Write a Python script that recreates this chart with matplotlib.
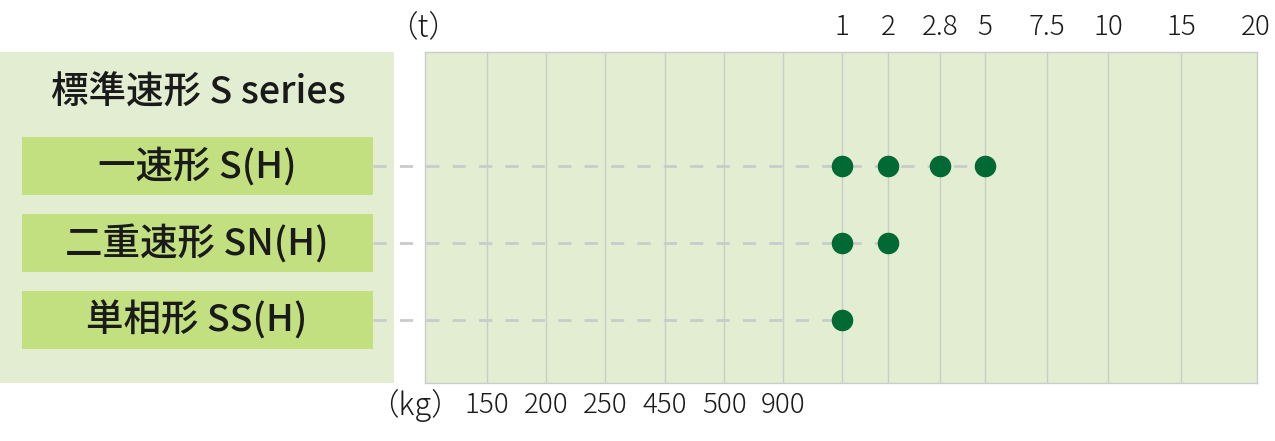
import matplotlib
matplotlib.use("Agg")
import matplotlib.pyplot as plt
from matplotlib.patches import Rectangle

plt.rcParams['font.family'] = ['Noto Sans CJK JP', 'DejaVu Sans']
plt.rcParams['lines.scale_dashes'] = False

# data
series_title = "標準速形 S series"
series_names = ["一速形 S(H)", "二重速形 SN(H)", "単相形 SS(H)"]
kg_labels = ["150", "200", "250", "450", "500", "900"]
t_labels = ["1", "2", "2.8", "5", "7.5", "10", "15", "20"]
# capacities available per series
series_caps = [["1", "2", "2.8", "5"], ["1", "2"], ["1"]]

# layout (slot positions along the axis, left edge = 0)
kg_x = [62, 121, 180, 240, 299, 358]
t_x = [417, 463, 515, 560, 622, 683, 756, 831]

BG = "#e2edd1"
BOX = "#c3e081"
DOT = "#006934"
GRID = "#c9cccb"
TXT = "#1a1a1a"

W, H = 1275, 441
fig = plt.figure(figsize=(W / 100, H / 100), dpi=100)

# main plot area
ax = fig.add_axes([425 / W, (H - 383) / H, 832 / W, 331 / H])
ax.set_facecolor(BG)
ax.set_xlim(0, 832)
ax.set_ylim(2.82, -1.48)
for s in ax.spines.values():
    s.set_color(GRID)
    s.set_linewidth(1)
ax.set_xticks([])
ax.set_yticks([])
for x in kg_x + t_x[:-1]:
    ax.axvline(x, color=GRID, lw=1, zorder=1)

# left panel
lp = fig.add_axes([0, (H - 383) / H, 394 / W, 331 / H], sharey=ax)
lp.set_facecolor(BG)
lp.set_xlim(0, 394)
for s in lp.spines.values():
    s.set_visible(False)
lp.tick_params(left=False, bottom=False, labelleft=False, labelbottom=False)
lp.text(198, -0.96, series_title, ha='center', va='center', fontsize=27,
        fontweight='medium', color=TXT)
for i, name in enumerate(series_names):
    lp.add_patch(Rectangle((22, i - 0.377), 351, 0.754, color=BOX, lw=0))
    lp.text(197, i, name, ha='center', va='center', fontsize=27,
            fontweight='medium', color=TXT)
lp.set_zorder(1)
ax.set_zorder(2)

# dashed leader lines + dots
for i, caps in enumerate(series_caps):
    xs = [t_x[t_labels.index(c)] for c in caps]
    ax.plot([-52, xs[-1]], [i, i], color=GRID, lw=2, dashes=(9.5, 9.5),
            clip_on=False, zorder=2)
    ax.plot(xs, [i] * len(xs), 'o', color=DOT, ms=14.5, mec=DOT, zorder=3)

# axis labels as text
ty = -1.48 - 25 / 77
by = 2.82 + 22 / 77
for x, lab in zip(t_x, t_labels):
    ax.text(x, ty, lab, ha='center', va='center', fontsize=20,
            fontweight='light', color=TXT, clip_on=False)
for x, lab in zip(kg_x, kg_labels):
    ax.text(x, by, lab, ha='center', va='center', fontsize=20,
            fontweight='light', color=TXT, clip_on=False)
ax.text(-2, ty, "（t）", ha='center', va='center', fontsize=22,
        fontweight='light', color=TXT, clip_on=False)
ax.text(-10, by, "（kg）", ha='center', va='center', fontsize=22,
        fontweight='light', color=TXT, clip_on=False)

fig.savefig("out.png", dpi=100)
